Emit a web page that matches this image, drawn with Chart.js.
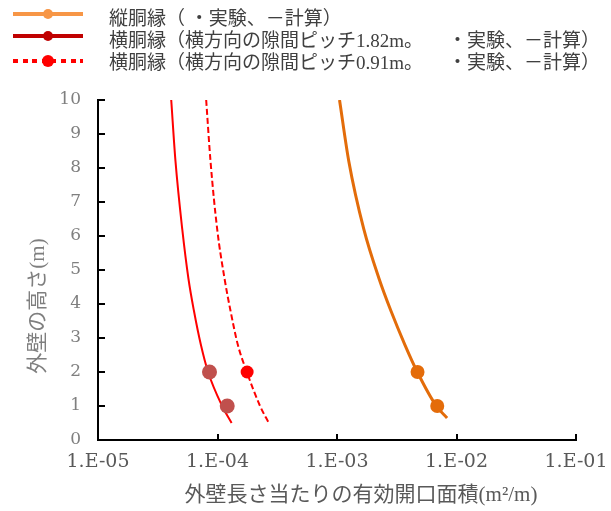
<!DOCTYPE html>
<html>
<head>
<meta charset="utf-8">
<script src="https://cdn.jsdelivr.net/npm/chart.js@4/dist/chart.umd.min.js"></script>
<style>
  html, body { margin: 0; padding: 0; background: #fff; }
  #wrap { position: relative; width: 611px; height: 511px; overflow: hidden; }
  #chart { position: absolute; left: 0; top: 0; }
  .lg-line { position: absolute; left: 13px; width: 70px; }
  .lg-dot { position: absolute; border-radius: 50%; }
  .lg-text { position: absolute; white-space: pre; font-family: "Liberation Serif", "Noto Sans CJK JP", serif;
             font-size: 19px; color: #404040; line-height: 24px; top: 0; }
</style>
</head>
<body>
<div id="wrap">
  <canvas id="chart" width="611" height="511"></canvas>
  <div id="legend"></div>
</div>
<script>
// Calculated curves: wall height (m) vs. effective opening area per wall length (m²/m)
const heightsCalc = [10, 8.2, 6.2, 4.75, 3.8, 2.8, 2, 1, 0.5];
const heightsCalcVertical = [10, 8.2, 6.2, 4.75, 3.8, 2.8, 2, 1, 0.65];
const areaVerticalCalc = [1.05e-3, 1.255e-3, 1.676e-3, 2.246e-3, 2.825e-3, 3.70e-3, 4.70e-3, 6.78e-3, 8.34e-3];
const areaPitch182Calc = [4.10e-5, 4.45e-5, 5.07e-5, 5.71e-5, 6.35e-5, 7.26e-5, 8.34e-5, 1.093e-4, 1.312e-4];
const areaPitch091Calc = [8.04e-5, 8.74e-5, 9.94e-5, 1.145e-4, 1.285e-4, 1.48e-4, 1.76e-4, 2.27e-4, 2.69e-4];

// Experimental results
const heightsExp = [2, 1];
const areaVerticalExp = [4.72e-3, 6.90e-3];
const areaPitch182Exp = [8.57e-5, 1.206e-4];
const heightsExp091 = [2];
const areaPitch091Exp = [1.77e-4];

// Axis ticks and titles
const xTickValues = [1e-5, 1e-4, 1e-3, 1e-2, 1e-1];
const xTickLabels = ['1.E-05', '1.E-04', '1.E-03', '1.E-02', '1.E-01'];
const yTickValues = [0, 1, 2, 3, 4, 5, 6, 7, 8, 9, 10];
const xTitle = '外壁長さ当たりの有効開口面積(m²/m)';
const yTitle = '外壁の高さ(m)';

// Legend entries
const legendTexts = [
  ['縦胴縁（ ・実験、－計算）', ''],
  ['横胴縁（横方向の隙間ピッチ1.82m。', '・実験、－計算）'],
  ['横胴縁（横方向の隙間ピッチ0.91m。', '・実験、－計算）']
];

const pts = (xs, ys) => xs.map((x, i) => ({ x: x, y: ys[i] }));

// ---- legend (line + marker symbols) ----
(function buildLegend() {
  const box = document.getElementById('legend');
  const rows = [
    { y: 7,  lineY: 14, color: '#F79646', dot: '#F79646', r: 5, dotted: false },
    { y: 29, lineY: 36, color: '#C00000', dot: '#C00000', r: 5, dotted: false },
    { y: 51, lineY: 61, color: '#FF0000', dot: '#FF0000', r: 6, dotted: true }
  ];
  rows.forEach((r, i) => {
    const line = document.createElement('div');
    line.className = 'lg-line';
    line.style.top = (r.lineY - 2) + 'px';
    line.style.height = '4px';
    line.style.background = r.dotted
      ? 'repeating-linear-gradient(to right,' + r.color + ' 0 5px, transparent 5px 9.6px)'
      : r.color;
    box.appendChild(line);
    const dot = document.createElement('div');
    dot.className = 'lg-dot';
    dot.style.left = (48 - r.r) + 'px';
    dot.style.top = (r.lineY - r.r) + 'px';
    dot.style.width = dot.style.height = (2 * r.r) + 'px';
    dot.style.background = r.dot;
    box.appendChild(dot);
    const t1 = document.createElement('div');
    t1.className = 'lg-text';
    t1.style.left = '109px';
    t1.style.top = r.y + 'px';
    t1.textContent = legendTexts[i][0];
    box.appendChild(t1);
    if (legendTexts[i][1]) {
      const t2 = document.createElement('div');
      t2.className = 'lg-text';
      t2.style.left = '448px';
      t2.style.top = r.y + 'px';
      t2.textContent = legendTexts[i][1];
      box.appendChild(t2);
    }
  });
})();

// Tick marks drawn on the inner side of both axes
const innerTicks = {
  id: 'innerTicks',
  afterDatasetsDraw(chart) {
    const { ctx, chartArea: a, scales: { x, y } } = chart;
    ctx.save();
    ctx.strokeStyle = '#000';
    ctx.lineWidth = 2;
    ctx.beginPath();
    x.ticks.forEach(t => {
      const px = Math.round(x.getPixelForValue(t.value));
      ctx.moveTo(px, a.bottom);
      ctx.lineTo(px, a.bottom - 6);
    });
    y.ticks.forEach(t => {
      const py = Math.round(y.getPixelForValue(t.value));
      ctx.moveTo(a.left, py);
      ctx.lineTo(a.left + 7, py);
    });
    ctx.stroke();
    ctx.restore();
  }
};

// Axis titles
const axisTitles = {
  id: 'axisTitles',
  afterDraw(chart) {
    const { ctx, chartArea: a } = chart;
    ctx.save();
    ctx.font = '21px "Liberation Serif", "Noto Sans CJK JP", serif';
    ctx.textAlign = 'center';
    ctx.textBaseline = 'middle';
    ctx.fillStyle = '#595959';
    ctx.fillText(xTitle, (a.left + a.right) / 2 + 24, a.bottom + 55);
    ctx.fillStyle = '#7f7f7f';
    ctx.translate(a.left - 60, (a.top + a.bottom) / 2 + 36);
    ctx.rotate(-Math.PI / 2);
    ctx.fillText(yTitle, 0, 0);
    ctx.restore();
  }
};

new Chart(document.getElementById('chart'), {
  type: 'scatter',
  data: {
    datasets: [
      { data: pts(areaVerticalCalc, heightsCalcVertical), showLine: true, borderColor: '#E36C0A',
        borderWidth: 3, pointRadius: 0, cubicInterpolationMode: 'monotone', order: 3 },
      { data: pts(areaPitch182Calc, heightsCalc), showLine: true, borderColor: '#FF0000',
        borderWidth: 2, pointRadius: 0, cubicInterpolationMode: 'monotone', order: 3 },
      { data: pts(areaPitch091Calc, heightsCalc), showLine: true, borderColor: '#FF0000',
        borderWidth: 2, borderDash: [6, 3], pointRadius: 0, cubicInterpolationMode: 'monotone', order: 3 },
      { data: pts(areaVerticalExp, heightsExp), showLine: false, pointRadius: 7,
        pointBackgroundColor: '#E46C0A', pointBorderWidth: 0, order: 1 },
      { data: pts(areaPitch182Exp, heightsExp), showLine: false, pointRadius: 7.5,
        pointBackgroundColor: '#C0504D', pointBorderWidth: 0, order: 1 },
      { data: pts(areaPitch091Exp, heightsExp091), showLine: false, pointRadius: 6.5,
        pointBackgroundColor: '#FF0000', pointBorderWidth: 0, order: 1 }
    ]
  },
  options: {
    responsive: false,
    animation: false,
    layout: { padding: { top: 100, right: 35, left: 0, bottom: 0 } },
    plugins: { legend: { display: false }, tooltip: { enabled: false } },
    scales: {
      x: {
        type: 'logarithmic', min: 1e-5, max: 1e-1,
        afterBuildTicks: s => { s.ticks = xTickValues.map(v => ({ value: v })); },
        afterFit: s => { s.height = 71; s.paddingLeft = 0; s.paddingRight = 0; },
        ticks: {
          callback: (v, i) => xTickLabels[i],
          color: '#595959', font: { family: '"DejaVu Serif", serif', size: 19 },
          padding: 11, maxRotation: 0, autoSkip: false
        },
        grid: { drawOnChartArea: false, drawTicks: false },
        border: { color: '#000', width: 2 }
      },
      y: {
        type: 'linear', min: 0, max: 10,
        afterBuildTicks: s => { s.ticks = yTickValues.map(v => ({ value: v })); },
        afterFit: s => { s.width = 98; s.paddingTop = 0; s.paddingBottom = 0; },
        ticks: {
          color: '#7f7f7f', font: { family: '"DejaVu Serif", serif', size: 17 },
          padding: 17
        },
        grid: { drawOnChartArea: false, drawTicks: false },
        border: { color: '#000', width: 2 }
      }
    }
  },
  plugins: [innerTicks, axisTitles]
});
</script>
</body>
</html>
